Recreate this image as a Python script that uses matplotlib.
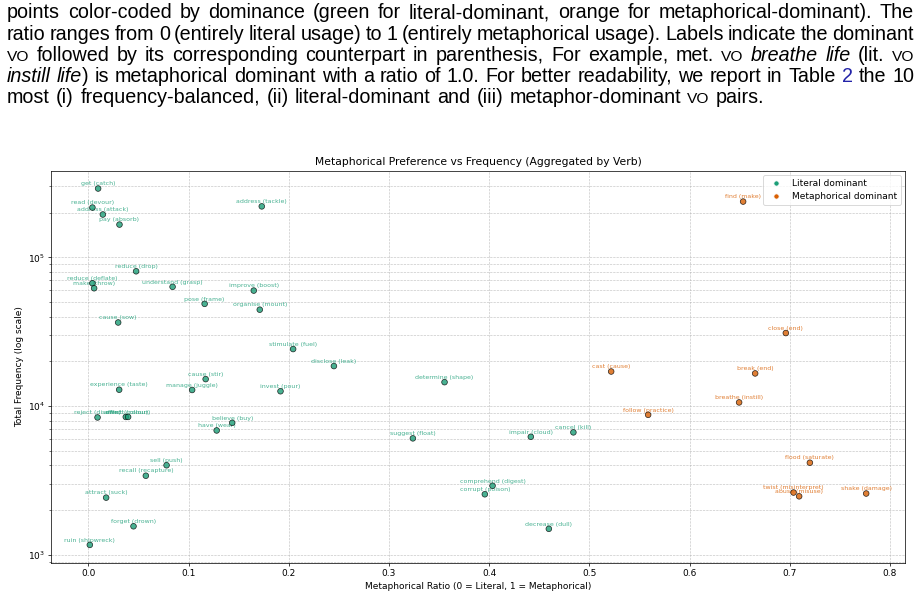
import re
import matplotlib
matplotlib.use("Agg")
import matplotlib.pyplot as plt
from matplotlib.lines import Line2D

# 元画像は縮小されたスクリーンショットなので、低めのdpiでデフォルトの文字サイズを活かす
W_PX, H_PX = 921, 597
DPI = 64.5

# 各動詞ペアの比率（0=字義, 1=比喩）と総頻度
labels = [
    "get (catch)", "read (devour)", "address (attack)", "pay (absorb)",
    "address (tackle)", "reduce (drop)", "reduce (deflate)", "make (throw)",
    "understand (grasp)", "improve (boost)", "pose (frame)", "organise (mount)",
    "cause (sow)", "stimulate (fuel)", "disclose (leak)", "determine (shape)",
    "cause (stir)", "experience (taste)", "manage (juggle)", "invest (pour)",
    "reject (disown)", "affect (colour)", "effect (colour)", "believe (buy)",
    "have (wear)", "suggest (float)", "impair (cloud)", "cancel (kill)",
    "sell (push)", "recall (recapture)", "comprehend (digest)", "corrupt (poison)",
    "attract (suck)", "forget (drown)", "decrease (dull)", "ruin (shipwreck)",
    "find (make)", "close (end)", "cast (cause)", "break (end)",
    "breathe (instill)", "follow (practice)", "flood (saturate)",
    "twist (misinterpret)", "abuse (misuse)", "shake (damage)",
]
ratios = [
    0.0097, 0.0040, 0.0144, 0.0310,
    0.1730, 0.0476, 0.0040, 0.0057,
    0.0840, 0.1650, 0.1160, 0.1710,
    0.0297, 0.2043, 0.2450, 0.3554,
    0.1170, 0.0307, 0.1035, 0.1917,
    0.0091, 0.0373, 0.0396, 0.1435,
    0.1280, 0.3238, 0.4415, 0.4840,
    0.0780, 0.0573, 0.4033, 0.3956,
    0.0177, 0.0450, 0.4595, 0.0014,
    0.6534, 0.6960, 0.5217, 0.6654,
    0.6494, 0.5586, 0.7200,
    0.7037, 0.7093, 0.7762,
]
freqs = [
    290000, 216000, 194000, 166000,
    220000, 80600, 67000, 62000,
    63400, 59800, 48700, 44500,
    36500, 24200, 18600, 14500,
    15200, 12900, 12850, 12600,
    8400, 8470, 8470, 7730,
    6870, 6080, 6230, 6670,
    4010, 3410, 2920, 2560,
    2430, 1560, 1500, 1170,
    237000, 31000, 17100, 16600,
    10600, 8750, 4170,
    2630, 2480, 2590,
]

GREEN = "#1b9e77"
ORANGE = "#d95f02"

# 上の本文（{s:..}=スモールキャップ, {i:..}=斜体, {b:..}=リンク色）
para_lines = [
    "points color-coded by dominance (green for literal-dominant, orange for metaphorical-dominant). The",
    "ratio ranges from 0 (entirely literal usage) to 1 (entirely metaphorical usage). Labels indicate the dominant",
    "{s:VO} followed by its corresponding counterpart in parenthesis, For example, met. {s:VO} {i:breathe} {i:life} (lit. {s:VO}",
    "{i:instill} {i:life}) is metaphorical dominant with a ratio of 1.0. For better readability, we report in Table {b:2} the 10",
    "most (i) frequency-balanced, (ii) literal-dominant and (iii) metaphor-dominant {s:VO} pairs.",
]
FAMILY = ["Liberation Sans", "DejaVu Sans"]
TOKEN = re.compile(r"\{(\w):([^}]*)\}|([^{]+)")
SPACE_EM = 0.32


def parse_word(w):
    segs = []
    for m in TOKEN.finditer(w):
        if m.group(3):
            segs.append((m.group(3), "n"))
        else:
            segs.append((m.group(2), m.group(1)))
    return segs


def make_words(fig, r, line, size, y):
    words = []
    for w in line.split(" "):
        parts = []
        for txt, st in parse_word(w):
            kw = dict(fontsize=size, family=FAMILY, va="baseline", color="black")
            if st == "i":
                kw["style"] = "italic"
            if st == "s":
                kw["fontsize"] = size * 0.78
            if st == "b":
                kw["color"] = "#2323a8"
            t = fig.text(0, y, txt, **kw)
            parts.append((t, t.get_window_extent(r).width))
        words.append(parts)
    return words


def fit_size(fig, r, lines, x0, x1):
    # 自然な語間で1〜4行目が幅に収まる文字サイズを求める
    sizes = []
    for line in lines[:-1]:
        words = make_words(fig, r, line, 20, 0)
        w20 = sum(p[1] for ws in words for p in ws)
        for ws in words:
            for t, _ in ws:
                t.remove()
        gaps = len(words) - 1
        sizes.append((x1 - x0) / (w20 / 20 + gaps * SPACE_EM * DPI / 72))
    return sum(sizes) / len(sizes)


def draw_paragraph(fig, lines, x0, x1, y0, step):
    r = fig.canvas.get_renderer()
    size = fit_size(fig, r, lines, x0, x1)
    for k, line in enumerate(lines):
        y = 1 - (y0 + k * step) / H_PX
        words = make_words(fig, r, line, size, y)
        widths = [sum(p[1] for p in ws) for ws in words]
        if k == len(lines) - 1:
            gap = SPACE_EM * size * DPI / 72
        else:
            gap = ((x1 - x0) - sum(widths)) / (len(words) - 1)
        x = x0
        for ws in words:
            for t, wd in ws:
                t.set_x(x / W_PX)
                x += wd
            x += gap


def main():
    fig = plt.figure(figsize=(W_PX / DPI, H_PX / DPI), dpi=DPI)
    ax = fig.add_axes([51 / W_PX, 1 - 562.7 / H_PX, (905 - 51) / W_PX, (562.7 - 170.7) / H_PX])

    colors = [ORANGE if r > 0.5 else GREEN for r in ratios]
    ax.scatter(ratios, freqs, c=colors, s=40, alpha=0.8, edgecolors="k",
               linewidths=0.8, zorder=3)
    for x, y, lab, c in zip(ratios, freqs, labels, colors):
        ax.annotate(lab, (x, y), xytext=(0, 2.5), textcoords="offset points",
                    fontsize=7, ha="center", va="bottom", color=c, alpha=0.8,
                    zorder=2)

    ax.set_yscale("log")
    ax.set_title("Metaphorical Preference vs Frequency (Aggregated by Verb)", fontsize=12)
    ax.set_xlabel("Metaphorical Ratio (0 = Literal, 1 = Metaphorical)", fontsize=10)
    ax.set_ylabel("Total Frequency (log scale)", fontsize=10)
    ax.grid(True, which="both", linestyle="--", linewidth=0.7, alpha=0.75)

    handles = [
        Line2D([0], [0], marker="o", color="w", markerfacecolor=GREEN, markersize=6,
               label="Literal dominant"),
        Line2D([0], [0], marker="o", color="w", markerfacecolor=ORANGE, markersize=6,
               label="Metaphorical dominant"),
    ]
    ax.legend(handles=handles, loc="upper right", fontsize=10)

    draw_paragraph(fig, para_lines, 7, 914, 18.5, 21.2)

    fig.savefig("out.png", dpi=DPI)
    print("saved out.png")


if __name__ == "__main__":
    main()
